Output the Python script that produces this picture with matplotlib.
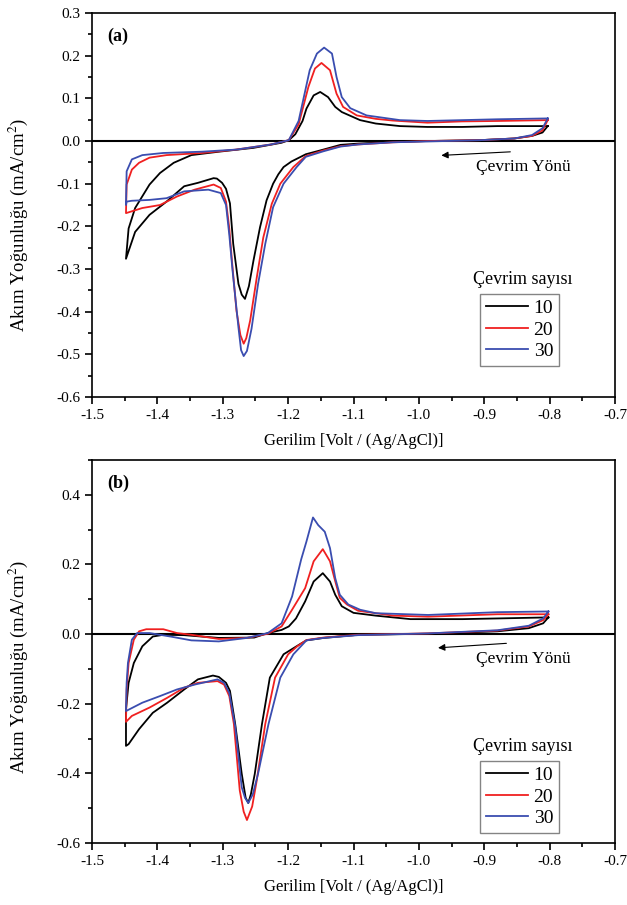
import numpy as np
import matplotlib
matplotlib.use("Agg")
import matplotlib.pyplot as plt
from matplotlib.ticker import MultipleLocator, FormatStrFormatter

plt.rcParams['font.family'] = ['Liberation Serif', 'DejaVu Serif']
plt.rcParams['mathtext.fontset'] = 'stix'

cycles = ['10', '20', '30']
colors = ['black', '#f02020', '#3a4db0']

# panel (a): each loop starts at -0.8 V, cathodic sweep to -1.45 V, then anodic back
a10 = [(-0.803, 0.035), (-0.811, 0.020), (-0.827, 0.012), (-0.854, 0.006), (-0.907, 0.002),
       (-0.987, 0.000), (-1.040, -0.002), (-1.093, -0.006), (-1.120, -0.009), (-1.146, -0.020),
       (-1.173, -0.031), (-1.195, -0.048), (-1.207, -0.061), (-1.215, -0.078), (-1.223, -0.100),
       (-1.233, -0.139), (-1.243, -0.202), (-1.253, -0.280), (-1.260, -0.340), (-1.266, -0.370),
       (-1.271, -0.360), (-1.276, -0.335), (-1.284, -0.241), (-1.289, -0.146), (-1.295, -0.112),
       (-1.301, -0.098), (-1.309, -0.088), (-1.314, -0.087), (-1.338, -0.098), (-1.359, -0.106),
       (-1.386, -0.142), (-1.412, -0.173), (-1.434, -0.213), (-1.448, -0.276),
       (-1.444, -0.205), (-1.434, -0.157), (-1.412, -0.102), (-1.396, -0.075), (-1.375, -0.051),
       (-1.348, -0.033), (-1.306, -0.025), (-1.253, -0.016), (-1.210, -0.004), (-1.199, 0.002),
       (-1.189, 0.016), (-1.178, 0.047), (-1.172, 0.076), (-1.161, 0.107), (-1.151, 0.115),
       (-1.139, 0.103), (-1.128, 0.080), (-1.118, 0.068), (-1.090, 0.049), (-1.066, 0.041),
       (-1.029, 0.035), (-0.987, 0.033), (-0.934, 0.033), (-0.880, 0.035), (-0.803, 0.035)]

a20 = [(-0.803, 0.049), (-0.811, 0.025), (-0.827, 0.012), (-0.854, 0.006), (-0.907, 0.002),
       (-0.987, 0.000), (-1.040, -0.003), (-1.093, -0.008), (-1.120, -0.012), (-1.146, -0.022),
       (-1.173, -0.035), (-1.192, -0.061), (-1.212, -0.100), (-1.225, -0.147), (-1.238, -0.226),
       (-1.248, -0.320), (-1.258, -0.420), (-1.264, -0.462), (-1.268, -0.475), (-1.273, -0.455),
       (-1.279, -0.398), (-1.286, -0.280), (-1.290, -0.205), (-1.295, -0.142), (-1.303, -0.110),
       (-1.314, -0.102), (-1.343, -0.114), (-1.370, -0.130), (-1.396, -0.150), (-1.423, -0.157),
       (-1.448, -0.169),
       (-1.447, -0.102), (-1.439, -0.067), (-1.428, -0.051), (-1.412, -0.039), (-1.386, -0.033),
       (-1.332, -0.028), (-1.279, -0.020), (-1.226, -0.008), (-1.199, 0.002), (-1.184, 0.039),
       (-1.169, 0.127), (-1.159, 0.170), (-1.149, 0.183), (-1.136, 0.166), (-1.126, 0.111),
       (-1.116, 0.080), (-1.095, 0.060), (-1.066, 0.052), (-1.040, 0.048), (-0.987, 0.043),
       (-0.934, 0.046), (-0.880, 0.047), (-0.803, 0.049)]

a30 = [(-0.803, 0.053), (-0.811, 0.030), (-0.827, 0.014), (-0.854, 0.006), (-0.907, 0.002),
       (-0.987, -0.001), (-1.040, -0.003), (-1.093, -0.008), (-1.120, -0.013), (-1.146, -0.024),
       (-1.173, -0.037), (-1.187, -0.061), (-1.207, -0.100), (-1.223, -0.155), (-1.235, -0.241),
       (-1.246, -0.335), (-1.256, -0.440), (-1.263, -0.492), (-1.268, -0.504), (-1.272, -0.490),
       (-1.276, -0.437), (-1.285, -0.304), (-1.290, -0.220), (-1.295, -0.150), (-1.303, -0.122),
       (-1.322, -0.114), (-1.359, -0.118), (-1.386, -0.134), (-1.412, -0.138), (-1.439, -0.140),
       (-1.447, -0.142), (-1.448, -0.150),
       (-1.447, -0.071), (-1.439, -0.043), (-1.423, -0.033), (-1.391, -0.028), (-1.332, -0.025),
       (-1.279, -0.020), (-1.226, -0.008), (-1.199, 0.002), (-1.184, 0.047), (-1.167, 0.166),
       (-1.156, 0.205), (-1.145, 0.219), (-1.133, 0.205), (-1.126, 0.150), (-1.118, 0.103),
       (-1.105, 0.077), (-1.080, 0.060), (-1.029, 0.049), (-0.987, 0.047), (-0.880, 0.051),
       (-0.803, 0.053)]

# panel (b)
b10 = [(-0.802, 0.048), (-0.810, 0.031), (-0.832, 0.017), (-0.880, 0.008), (-0.986, 0.001),
       (-1.093, -0.002), (-1.146, -0.011), (-1.172, -0.018), (-1.182, -0.029), (-1.207, -0.058),
       (-1.228, -0.125), (-1.240, -0.258), (-1.251, -0.401), (-1.257, -0.460), (-1.261, -0.485),
       (-1.265, -0.470), (-1.271, -0.401), (-1.281, -0.258), (-1.289, -0.163), (-1.295, -0.140),
       (-1.306, -0.123), (-1.315, -0.119), (-1.338, -0.130), (-1.359, -0.159), (-1.385, -0.197),
       (-1.407, -0.226), (-1.428, -0.273), (-1.444, -0.316), (-1.448, -0.321),
       (-1.448, -0.216), (-1.444, -0.140), (-1.436, -0.083), (-1.423, -0.035), (-1.407, -0.007),
       (-1.391, -0.002), (-1.359, -0.003), (-1.306, -0.011), (-1.252, -0.010), (-1.231, 0.003),
       (-1.210, 0.012), (-1.199, 0.022), (-1.188, 0.045), (-1.174, 0.094), (-1.161, 0.151),
       (-1.147, 0.175), (-1.136, 0.151), (-1.128, 0.113), (-1.118, 0.080), (-1.100, 0.061),
       (-1.066, 0.053), (-1.013, 0.043), (-0.933, 0.043), (-0.853, 0.046), (-0.802, 0.048)]

b20 = [(-0.802, 0.057), (-0.810, 0.040), (-0.832, 0.022), (-0.880, 0.010), (-0.986, 0.002),
       (-1.093, -0.002), (-1.146, -0.010), (-1.172, -0.017), (-1.186, -0.035), (-1.200, -0.058),
       (-1.220, -0.125), (-1.235, -0.258), (-1.248, -0.420), (-1.255, -0.495), (-1.263, -0.534),
       (-1.268, -0.510), (-1.274, -0.449), (-1.283, -0.258), (-1.290, -0.178), (-1.298, -0.145),
       (-1.308, -0.135), (-1.338, -0.140), (-1.359, -0.154), (-1.385, -0.183), (-1.412, -0.211),
       (-1.439, -0.235), (-1.448, -0.252),
       (-1.447, -0.159), (-1.444, -0.083), (-1.436, -0.016), (-1.428, 0.008), (-1.417, 0.014),
       (-1.391, 0.014), (-1.370, 0.003), (-1.348, -0.002), (-1.306, -0.014), (-1.263, -0.011),
       (-1.231, 0.001), (-1.210, 0.022), (-1.194, 0.070), (-1.174, 0.132), (-1.161, 0.209),
       (-1.147, 0.244), (-1.136, 0.209), (-1.128, 0.152), (-1.121, 0.104), (-1.110, 0.085),
       (-1.093, 0.067), (-1.039, 0.053), (-0.986, 0.050), (-0.880, 0.057), (-0.802, 0.057)]

b30 = [(-0.802, 0.065), (-0.810, 0.045), (-0.832, 0.024), (-0.880, 0.011), (-0.986, 0.002),
       (-1.093, -0.003), (-1.146, -0.011), (-1.172, -0.018), (-1.192, -0.058), (-1.212, -0.125),
       (-1.230, -0.258), (-1.246, -0.401), (-1.254, -0.460), (-1.261, -0.485), (-1.266, -0.470),
       (-1.271, -0.440), (-1.281, -0.265), (-1.290, -0.169), (-1.298, -0.140), (-1.308, -0.130),
       (-1.343, -0.145), (-1.370, -0.159), (-1.396, -0.178), (-1.423, -0.197), (-1.448, -0.221),
       (-1.447, -0.140), (-1.445, -0.083), (-1.439, -0.016), (-1.431, 0.003), (-1.412, 0.003),
       (-1.380, -0.007), (-1.348, -0.018), (-1.306, -0.021), (-1.263, -0.011), (-1.231, 0.003),
       (-1.210, 0.031), (-1.194, 0.108), (-1.180, 0.215), (-1.172, 0.266), (-1.162, 0.335),
       (-1.154, 0.313), (-1.144, 0.294), (-1.136, 0.247), (-1.128, 0.161), (-1.121, 0.113),
       (-1.108, 0.085), (-1.090, 0.070), (-1.066, 0.060), (-0.986, 0.055), (-0.880, 0.063),
       (-0.802, 0.065)]

panels = [
    dict(tag='(a)', ylim=(-0.6, 0.3), major=0.1, minor=0.05, curves=[a10, a20, a30],
         rect=[0.1467, 0.5613, 0.8343, 0.4243], arrow=((-0.856, -0.025), (-0.970, -0.034)),
         note_y=-0.060, leg_y=0.081, title_y=0.305, ylab_y=0.448),
    dict(tag='(b)', ylim=(-0.6, 0.5), major=0.2, minor=0.1, curves=[b10, b20, b30],
         rect=[0.1467, 0.0685, 0.8343, 0.4232], arrow=((-0.862, -0.026), (-0.975, -0.040)),
         note_y=-0.071, leg_y=0.026, title_y=0.253, ylab_y=0.46),
]

fig = plt.figure(figsize=(6.27, 9.05), dpi=100)

for p in panels:
    ax = fig.add_axes(p['rect'])
    ax.axhline(0, color='black', lw=1.5, zorder=1)
    for pts, c, lab in zip(p['curves'], colors, cycles):
        v, i = zip(*pts)
        ax.plot(v, i, color=c, lw=1.3, label=lab, solid_joinstyle='round')
    ax.set_xlim(-1.5, -0.7)
    ax.set_ylim(*p['ylim'])
    ax.xaxis.set_major_locator(MultipleLocator(0.1))
    ax.xaxis.set_minor_locator(MultipleLocator(0.05))
    ax.yaxis.set_major_locator(MultipleLocator(p['major']))
    ax.yaxis.set_minor_locator(MultipleLocator(p['minor']))
    ax.yaxis.set_major_formatter(FormatStrFormatter('%.1f'))
    ax.xaxis.set_major_formatter(FormatStrFormatter('%.1f'))
    ax.tick_params(which='major', direction='out', length=5, width=1.2, labelsize=11)
    ax.tick_params(which='minor', direction='out', length=3, width=1.2)
    for s in ax.spines.values():
        s.set_linewidth(1.2)
    ax.set_xlabel('Gerilim [Volt / (Ag/AgCl)]', fontsize=12, labelpad=8)
    ax.set_ylabel('Akım Yoğunluğu (mA/cm$^2$)', fontsize=13.5)
    ax.yaxis.set_label_coords(-0.118, p['ylab_y'])
    ax.text(0.03, 0.94, p['tag'], transform=ax.transAxes, fontsize=13,
            fontweight='bold', va='center', ha='left')
    ax.annotate('', xy=p['arrow'][1], xytext=p['arrow'][0],
                arrowprops=dict(arrowstyle='-|>', color='black', lw=0.8,
                                mutation_scale=10))
    ax.text(-0.840, p['note_y'], 'Çevrim Yönü', fontsize=12.5, ha='center', va='center')
    ax.text(0.824, p['title_y'], 'Çevrim sayısı', transform=ax.transAxes,
            fontsize=13, ha='center', va='center')
    leg = ax.legend(loc='lower left', bbox_to_anchor=(0.742, p['leg_y']),
                    borderaxespad=0, fontsize=14, frameon=True, fancybox=False,
                    edgecolor='#666666', handlelength=2.15, borderpad=0.3,
                    labelspacing=0.2, handletextpad=0.3)
    leg.get_frame().set_linewidth(1.0)

fig.savefig('out.png', dpi=100)
